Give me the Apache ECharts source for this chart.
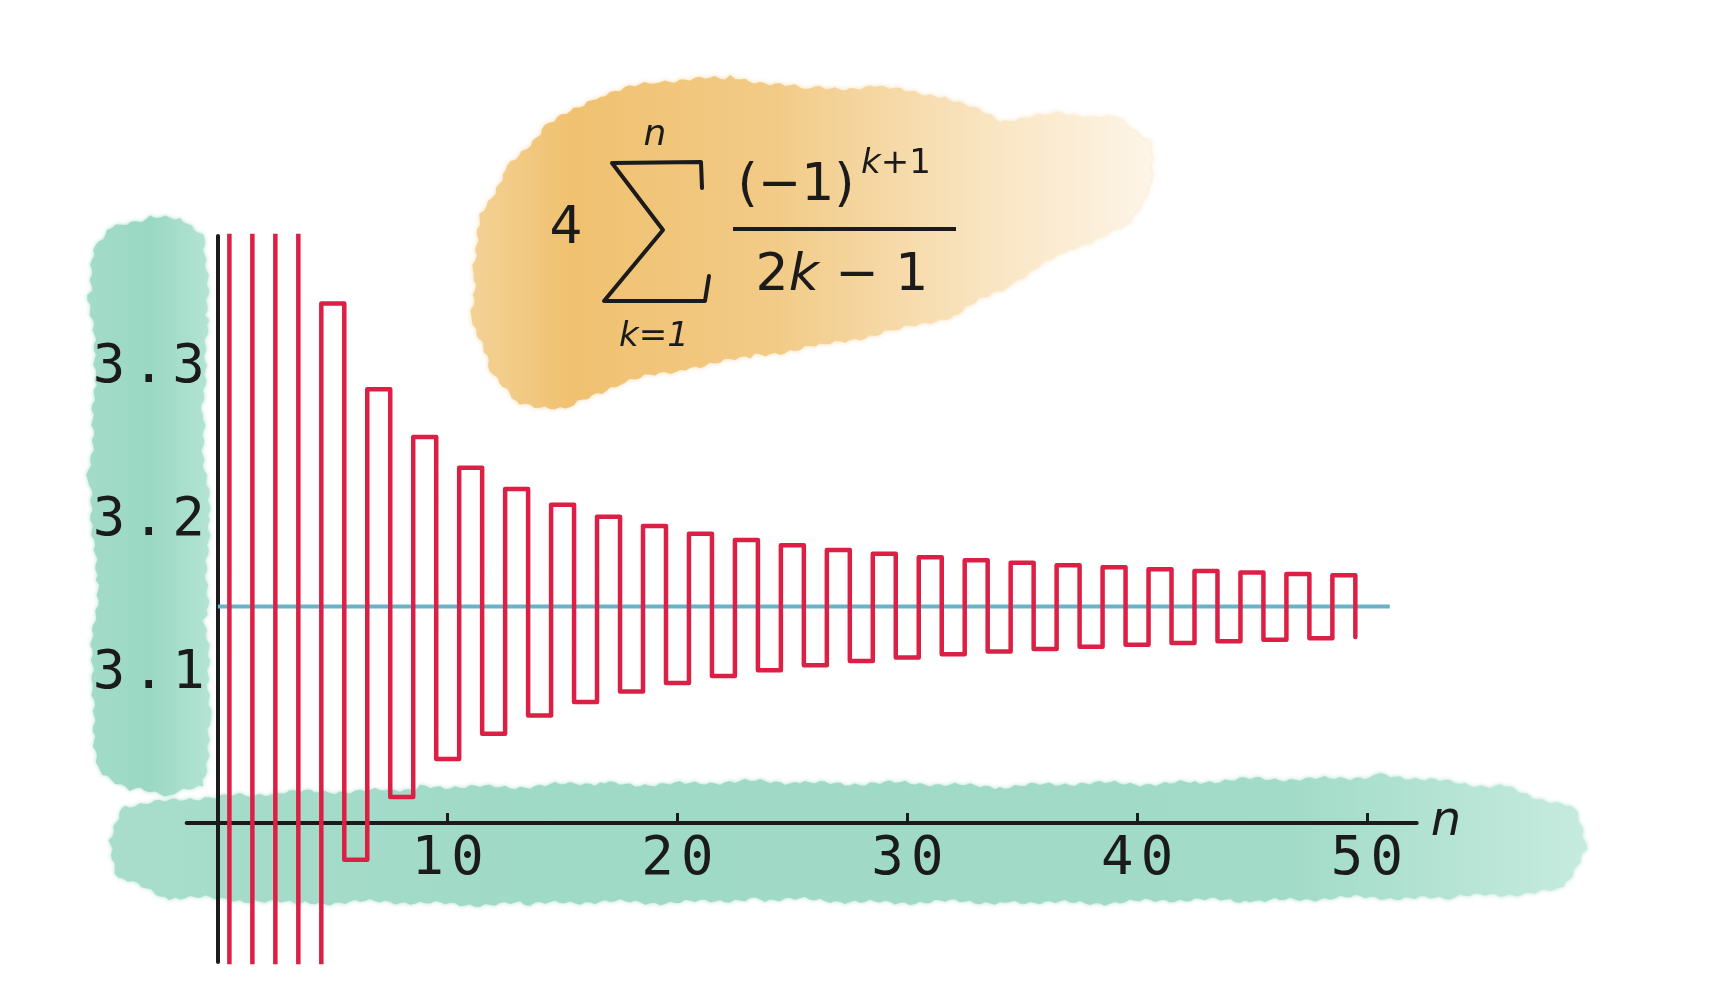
<!DOCTYPE html>
<html><head><meta charset="utf-8">
<script src="https://cdn.jsdelivr.net/npm/echarts@6/dist/echarts.min.js"></script>
<style>html,body{margin:0;padding:0;background:#fff}#c{width:1709px;height:1000px}</style>
</head><body><div id="c"></div>
<script>
// ---- data ----
const nValues = [0,1,2,3,4,5,6,7,8,9,10,11,12,13,14,15,16,17,18,19,20,21,22,23,24,25,26,27,28,29,30,31,32,33,34,35,36,37,38,39,40,41,42,43,44,45,46,47,48,49,50];
const partialSums = [0,4.0,2.666667,3.466667,2.895238,3.339683,2.976046,3.283738,3.017072,3.252366,3.041840,
  3.232316,3.058403,3.218403,3.070255,3.208186,3.079154,3.200366,3.086080,3.194188,3.091624,
  3.189185,3.096162,3.185051,3.099945,3.181577,3.103146,3.178617,3.105890,3.176065,3.108268,
  3.173842,3.110350,3.171888,3.112187,3.170158,3.113820,3.168615,3.115282,3.167230,3.116597,
  3.165980,3.117787,3.164846,3.118869,3.163813,3.119857,3.162868,3.120763,3.162000,3.121596];
const piValue = 3.14159;
const piLineN = [0, 51];
const xTickValues = [10, 20, 30, 40, 50];
const yTickValues = [3.1, 3.2, 3.3];
const xAxisName = 'n';

// steps centred on each n: edges at n - 0.5
const stepData = nValues.map((n, i) => [n - 0.5, partialSums[i]]);
const piData = piLineN.map(n => [n, piValue]);

// spaced-out hand-lettered look for tick labels
function spaced(str) {
  return str.split('').map(ch => '{d|' + ch + '}').join('{s| }');
}
const labelRich = {
  d: { fontFamily: 'DejaVu Sans Mono', fontSize: 54, color: '#1b1b1b' },
  s: { fontFamily: 'DejaVu Sans Mono', fontSize: 12 }
};

// ---- decorative watercolor blobs ----
function rough(pts, amp, seed) {
  const out = [];
  for (let i = 0; i < pts.length; i++) {
    const a = pts[i], b = pts[(i + 1) % pts.length];
    const dx = b[0] - a[0], dy = b[1] - a[1];
    const len = Math.hypot(dx, dy);
    const steps = Math.max(2, Math.round(len / 5));
    const nx = dy / len, ny = -dx / len;
    for (let s = 0; s < steps; s++) {
      const t = s / steps;
      const k = seed + i * 41 + s;
      const j = amp * (Math.sin(k * 1.9) * 0.45 + Math.sin(k * 0.43) * 0.4 + Math.sin(k * 6.1) * 0.3);
      out.push([a[0] + dx * t + nx * j, a[1] + dy * t + ny * j]);
    }
  }
  return out;
}
const leftBlob = [[112,228],[150,216],[185,220],[204,240],[208,320],[203,420],[209,520],[205,620],[210,720],[203,785],[170,795],[130,790],[98,772],[92,680],[97,580],[88,480],[96,380],[90,290],[96,245]];
const bottomBlob = [[125,805],[250,795],[420,788],[600,784],[800,782],[1000,786],[1200,782],[1380,776],[1500,786],[1575,808],[1588,850],[1560,890],[1450,897],[1250,900],[1000,903],[760,900],[520,904],[300,902],[170,898],[118,878],[108,840]];
const orangeBlob = [[473,270],[482,215],[505,170],[545,125],[600,95],[660,82],[730,78],[810,88],[880,86],[950,98],[1000,122],[1060,115],[1115,118],[1150,140],[1152,185],[1125,225],[1065,250],[1010,285],[950,318],[890,332],[820,345],[750,356],[680,370],[620,384],[565,410],[515,402],[490,365],[472,320]];

const blobGraphics = [
  { type: 'polygon', z: -20, shape: { points: rough(leftBlob, 3.5, 3) },
    style: { fill: new echarts.graphic.LinearGradient(0,0,1,0,[{offset:0,color:'#a3dcc9'},{offset:0.5,color:'#9ad8c4'},{offset:1,color:'#b4e4d4'}]), shadowBlur: 4, shadowColor: 'rgba(150,214,194,0.8)' } },
  { type: 'polygon', z: -20, shape: { points: rough(bottomBlob, 3.5, 11) },
    style: { fill: new echarts.graphic.LinearGradient(0,0,1,0,[{offset:0,color:'#a8ddcb'},{offset:0.3,color:'#9fdac6'},{offset:0.8,color:'#a2dbc8'},{offset:1,color:'#c6ebdf'}]), shadowBlur: 4, shadowColor: 'rgba(150,214,194,0.8)' } },
  { type: 'polygon', z: -20, shape: { points: rough(orangeBlob, 3.5, 23) },
    style: { fill: new echarts.graphic.LinearGradient(0,0,1,0,[{offset:0,color:'#f3d296'},{offset:0.15,color:'#f0c170'},{offset:0.45,color:'#f2cb87'},{offset:0.75,color:'#f9e4c0'},{offset:1,color:'#fdf5e8'}]), shadowBlur: 5, shadowColor: 'rgba(240,196,120,0.6)' } }
];

const ink = '#1b1b1b';
const formulaFont = 'DejaVu Sans';
const formulaGraphics = [
  { type: 'text', z: 10, style: { x: 566, y: 229, text: '4', font: '52px "' + formulaFont + '"', fill: ink, align: 'center', verticalAlign: 'middle' } },
  { type: 'polyline', z: 10, shape: { points: [[702,188],[701,162],[612,163],[663,230],[604,301],[705,301],[709,276]] },
    style: { stroke: ink, lineWidth: 4, fill: null, lineJoin: 'round', lineCap: 'round' } },
  { type: 'text', z: 10, style: { x: 655, y: 136, text: 'n', font: 'italic 36px "' + formulaFont + '"', fill: ink, align: 'center', verticalAlign: 'middle' } },
  { type: 'text', z: 10, style: { x: 654, y: 337, text: 'k=1', font: 'italic 34px "' + formulaFont + '"', fill: ink, align: 'center', verticalAlign: 'middle' } },
  { type: 'text', z: 10, style: { x: 796, y: 186, text: '(−1)', font: '52px "' + formulaFont + '"', fill: ink, align: 'center', verticalAlign: 'middle' } },
  { type: 'text', z: 10, style: { x: 896, y: 164, text: '{i|k}{r|+1}', fill: ink, align: 'center', verticalAlign: 'middle',
      rich: { i: { font: 'italic 34px "' + formulaFont + '"', fill: ink }, r: { font: '34px "' + formulaFont + '"', fill: ink } } } },
  { type: 'line', z: 10, shape: { x1: 733, y1: 229, x2: 956, y2: 229 }, style: { stroke: ink, lineWidth: 4 } },
  { type: 'text', z: 10, style: { x: 842, y: 276, text: '{r|2}{i|k}{r| − 1}', fill: ink, align: 'center', verticalAlign: 'middle',
      rich: { i: { font: 'italic 52px "' + formulaFont + '"', fill: ink }, r: { font: '52px "' + formulaFont + '"', fill: ink } } } }
];

const chart = echarts.init(document.getElementById('c'), null, { renderer: 'canvas' });
chart.setOption({
  animation: false,
  backgroundColor: '#ffffff',
  grid: { left: 186.7, top: 236, width: 1230, height: 726, containLabel: false },
  xAxis: {
    type: 'value', min: -1.358, max: 52.17, offset: -139,
    name: xAxisName, nameLocation: 'end', nameGap: 14,
    nameTextStyle: { fontFamily: formulaFont, fontStyle: 'italic', fontSize: 48, color: ink, verticalAlign: 'middle', padding: [0,0,6,0] },
    axisLine: { show: true, onZero: false, lineStyle: { color: ink, width: 4 } },
    axisTick: { show: true, inside: true, length: 10, customValues: xTickValues, lineStyle: { color: ink, width: 3 } },
    axisLabel: { show: true, customValues: xTickValues, margin: 10, rich: labelRich, formatter: v => spaced(String(v)) },
    splitLine: { show: false }
  },
  yAxis: {
    type: 'value', min: 2.9091, max: 3.3839,
    axisLine: { show: true, onZero: true, lineStyle: { color: ink, width: 4 } },
    axisTick: { show: false },
    axisLabel: { show: true, customValues: yTickValues, margin: -18, padding: [8,0,0,0], rich: labelRich, formatter: v => spaced(v.toFixed(1)) },
    splitLine: { show: false }
  },
  graphic: { elements: blobGraphics.concat(formulaGraphics) },
  series: [
    { name: 'π', type: 'line', data: piData, symbol: 'none', clip: true,
      lineStyle: { color: '#6ab3c6', width: 4 }, z: 3 },
    { name: 'partial sums', type: 'line', data: stepData, step: 'end', symbol: 'none', clip: true,
      lineStyle: { color: '#dc1f44', width: 4.5, join: 'round', cap: 'round' }, z: 4 }
  ]
});
</script></body></html>
